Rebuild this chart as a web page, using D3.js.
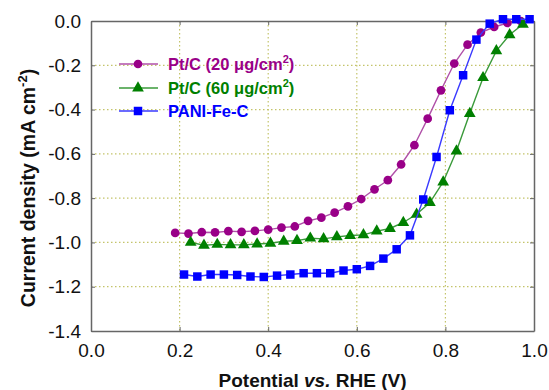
<!DOCTYPE html>
<html>
<head>
<meta charset="utf-8">
<script src="https://cdn.jsdelivr.net/npm/d3@7"></script>
<style>
  body { margin: 0; background: #fff; }
  svg { font-family: "Liberation Sans", Arial, sans-serif; }
</style>
</head>
<body>
<div id="chart"></div>
<script>
// potentials (V vs RHE), step 0.03
const ptc20X = d3.range(27).map(k => 0.19 + 0.03 * k);
const ptc20Y = [-0.957, -0.960, -0.954, -0.955, -0.949, -0.952, -0.948, -0.942, -0.933, -0.928,
  -0.903, -0.888, -0.865, -0.837, -0.804, -0.760, -0.719, -0.648, -0.561, -0.441,
  -0.313, -0.192, -0.107, -0.052, -0.027, -0.009, 0.0];

const ptc60X = d3.range(26).map(k => 0.225 + 0.03 * k);
const ptc60Y = [-1.000, -1.013, -1.009, -1.011, -1.011, -1.007, -1.004, -0.995, -0.992, -0.981,
  -0.984, -0.975, -0.969, -0.966, -0.949, -0.937, -0.910, -0.873, -0.820, -0.727,
  -0.587, -0.418, -0.256, -0.135, -0.062, -0.015];

const paniX = d3.range(27).map(k => 0.21 + 0.03 * k);
const paniY = [-1.145, -1.154, -1.145, -1.145, -1.147, -1.154, -1.156, -1.150, -1.145, -1.139,
  -1.139, -1.139, -1.127, -1.121, -1.106, -1.073, -1.031, -0.968, -0.806, -0.614,
  -0.403, -0.245, -0.084, -0.012, 0.008, 0.008, 0.008];

const xTicks = [0.0, 0.2, 0.4, 0.6, 0.8, 1.0];
const yTicks = [0.0, -0.2, -0.4, -0.6, -0.8, -1.0, -1.2, -1.4];

const series = [
  {name: 'Pt/C (20 ', sup: true, xs: ptc20X, ys: ptc20Y, color: '#990088', line: '#b050a8', sym: d3.symbolCircle, size: 60},
  {name: 'Pt/C (60 ', sup: true, xs: ptc60X, ys: ptc60Y, color: '#008000', line: '#3a9a3a', sym: d3.symbolTriangle, size: 60},
  {name: 'PANI-Fe-C', sup: false, xs: paniX, ys: paniY, color: '#0000ff', line: '#3a3aff', sym: d3.symbolSquare, size: 72}
];

const width = 549, height = 390;
const m = {left: 91, right: 15, top: 21, bottom: 59};

const svg = d3.select('#chart').append('svg')
  .attr('width', width)
  .attr('height', height);

const x = d3.scaleLinear().domain([0, 1]).range([m.left, width - m.right]);
const y = d3.scaleLinear().domain([-1.4, 0]).range([height - m.bottom, m.top]);

// grid
const grid = svg.append('g');
grid.selectAll('.gx').data(xTicks.slice(1, -1)).enter().append('line')
  .attr('x1', d => x(d)).attr('x2', d => x(d))
  .attr('y1', y(0)).attr('y2', y(-1.4))
  .attr('stroke', '#c4c46a').attr('stroke-width', 1.2).attr('stroke-dasharray', '1.5,2.5');
grid.selectAll('.gy').data(yTicks.slice(1, -1)).enter().append('line')
  .attr('y1', d => y(d)).attr('y2', d => y(d))
  .attr('x1', x(0)).attr('x2', x(1))
  .attr('stroke', '#c4c46a').attr('stroke-width', 1.2).attr('stroke-dasharray', '1.5,2.5');

// axes
const axB = svg.append('g').attr('transform', `translate(0,${y(-1.4)})`)
  .call(d3.axisBottom(x).tickValues(xTicks).tickFormat(d3.format('.1f')).tickSizeInner(-4).tickSizeOuter(0).tickPadding(13));
const axL = svg.append('g').attr('transform', `translate(${x(0)},0)`)
  .call(d3.axisLeft(y).tickValues(yTicks).tickFormat(d => d3.format('.1f')(d).replace('−', '-')).tickSizeInner(-4).tickSizeOuter(0).tickPadding(10));
const axT = svg.append('g').attr('transform', `translate(0,${y(0)})`)
  .call(d3.axisTop(x).tickValues(xTicks).tickFormat('').tickSizeInner(-4).tickSizeOuter(0));
const axR = svg.append('g').attr('transform', `translate(${x(1)},0)`)
  .call(d3.axisRight(y).tickValues(yTicks).tickFormat('').tickSizeInner(-4).tickSizeOuter(0));

[axB, axL, axT, axR].forEach(a => {
  a.selectAll('path').attr('stroke', '#666').attr('stroke-width', 1.5);
  a.selectAll('line').attr('stroke', '#666').attr('stroke-width', 1);
  a.selectAll('text').attr('font-size', 19).attr('fill', '#111')
    .attr('font-family', '"Liberation Sans", Arial, sans-serif');
});

// series
const line = d3.line().x(d => x(d[0])).y(d => y(d[1]));
series.forEach(s => {
  const pts = s.xs.map((v, i) => [v, s.ys[i]]);
  svg.append('path').datum(pts)
    .attr('d', line).attr('fill', 'none')
    .attr('stroke', s.line).attr('stroke-width', 1.4);
  svg.append('g').selectAll('path').data(pts).enter().append('path')
    .attr('transform', d => `translate(${x(d[0])},${y(d[1])})`)
    .attr('d', d3.symbol().type(s.sym).size(s.size))
    .attr('fill', s.color);
});

// legend
const leg = svg.append('g');
series.forEach((s, i) => {
  const ly = [64, 88, 111][i];
  leg.append('line').attr('x1', 119).attr('x2', 158).attr('y1', ly).attr('y2', ly)
    .attr('stroke', s.line).attr('stroke-width', 1.4);
  leg.append('path').attr('transform', `translate(138,${ly})`)
    .attr('d', d3.symbol().type(s.sym).size(s.size)).attr('fill', s.color);
  const t = leg.append('text').attr('x', 168).attr('y', ly + 6)
    .attr('font-size', 16.5).attr('font-weight', 'bold').attr('fill', s.color);
  if (s.sup) {
    t.append('tspan').text(s.name);
    t.append('tspan').text('\u03bcg/cm');
    t.append('tspan').text('2').attr('font-size', 11).attr('dy', -7);
    t.append('tspan').text(')').attr('dy', 7);
  } else {
    t.text(s.name);
  }
});

// axis titles
svg.append('text')
  .attr('x', (x(0) + x(1)) / 2).attr('y', 387)
  .attr('text-anchor', 'middle').attr('font-size', 19).attr('font-weight', 'bold').attr('fill', '#111')
  .call(t => {
    t.append('tspan').text('Potential ');
    t.append('tspan').text('vs.').attr('font-style', 'italic');
    t.append('tspan').text(' RHE (V)');
  });

svg.append('text')
  .attr('transform', `translate(35,188) rotate(-90)`)
  .attr('text-anchor', 'middle').attr('font-size', 19.5).attr('font-weight', 'bold').attr('fill', '#111')
  .call(t => {
    t.append('tspan').text('Current density (mA cm');
    t.append('tspan').text('-2').attr('font-size', 13).attr('dy', -8);
    t.append('tspan').text(')').attr('dy', 8);
  });
</script>
</body>
</html>
